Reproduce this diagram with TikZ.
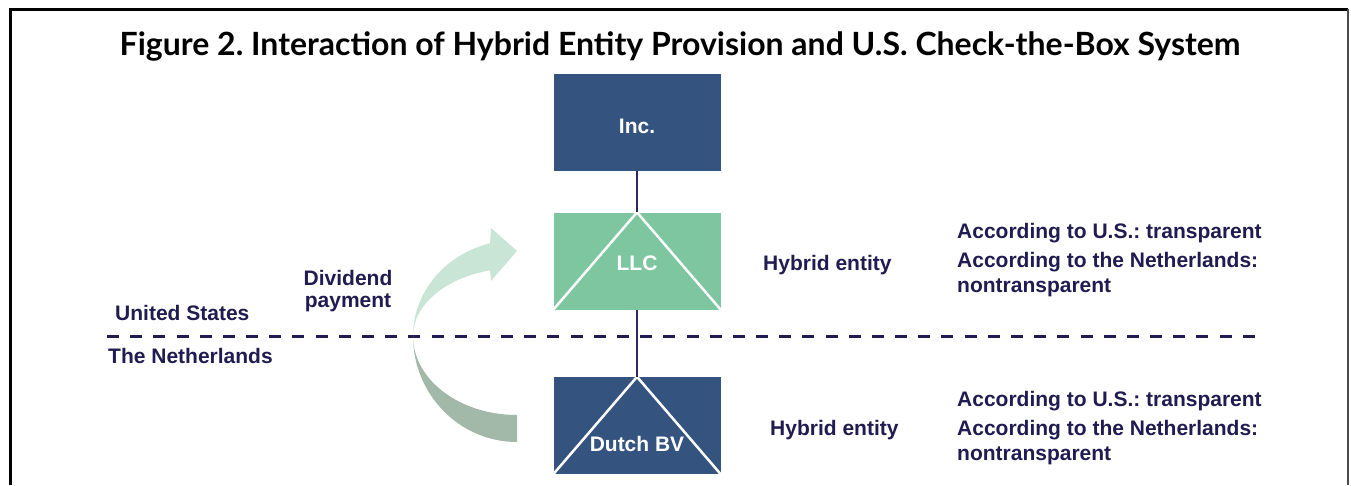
\documentclass[tikz,border=0pt]{standalone}
\usepackage{fontspec}
\setmainfont{Liberation Sans}
\newfontfamily\titlefont{Lato}
\definecolor{navytext}{HTML}{201B50}
\definecolor{boxblue}{HTML}{34537F}
\definecolor{boxgreen}{HTML}{7EC6A0}
\definecolor{linkline}{HTML}{2F2563}
\definecolor{arrowup}{HTML}{C9E5D6}
\definecolor{arrowdown}{HTML}{A2B8A8}
\tikzset{
  entity/.style={minimum width=167pt,minimum height=97pt,inner sep=0pt},
  entitytext/.style={text=white,font=\fontsize{21}{24}\selectfont\bfseries,
    inner sep=0pt,anchor=base},
  label/.style={text=navytext,font=\fontsize{21}{25}\selectfont\bfseries,
    inner sep=0pt,anchor=base west,align=left},
  link/.style={draw=linkline,line width=1.5pt},
  wedge/.style={draw=white,line width=2.5pt},
}
\frenchspacing
\begin{document}
\begin{tikzpicture}[x=1pt,y=-1pt]
\useasboundingbox (0,0) rectangle (1351,485);
% frame
\draw[black,line width=3pt] (10,485) -- (10,9) -- (1348,9);
\draw[black!70,line width=1.5pt] (1348,9) -- (1348,485);
% title
\node[anchor=base,inner sep=0pt,font=\titlefont\fontsize{32}{38}\selectfont\bfseries]
  (title) at (680,55) {Figure 2. Interaction of Hybrid Entity Provision and U.S. Check-the-Box System};
% entities
\node[entity,fill=boxblue] (inc) at (637,122.5) {};
\node[entity,fill=boxgreen] (llc) at (637,261) {};
\node[entity,fill=boxblue] (bv) at (637,425.5) {};
\draw[wedge] (llc.south west) -- (llc.north) -- (llc.south east);
\draw[wedge] (bv.south west) -- (bv.north) -- (bv.south east);
\node[entitytext] (inctext) at (637,133) {Inc.};
\node[entitytext] (llctext) at (637,270) {LLC};
\node[entitytext] (bvtext) at (637,451) {Dutch BV};
% ownership links
\draw[link] (inc.south) -- (llc.north);
\draw[link] (llc.south) -- (bv.north);
% border between countries
\coordinate (borderL) at (107,336);
\coordinate (borderR) at (1255,336);
\draw[navytext,line width=3pt,dash pattern=on 12pt off 11.18pt] (borderL) -- (borderR);
\node[label] (us) at (115,320) {United States};
\node[label] (nl) at (108,363) {The Netherlands};
% dividend arrow: lower half of the ribbon, then the upper half with its head
\coordinate (turn) at (413,336);
\fill[arrowdown] (turn) .. controls (413,394.5) and (459.6,442) .. (517,442)
  -- (517,415) .. controls (459.6,415) and (413,379.6) .. (turn) -- cycle;
\fill[arrowup] (turn) .. controls (413,292.6) and (444.6,254.5) .. (490.1,243.3)
  -- (491,228) -- (517,251) -- (491,281) -- (490.1,270.3)
  .. controls (444.6,278.3) and (413,305.2) .. (turn) -- cycle;
\node[label,anchor=base,align=center,font=\fontsize{21}{22}\selectfont\bfseries]
  (div) at (348,307) {Dividend\\payment};
% classification notes
\node[label] (hyb1) at (763,270) {Hybrid entity};
\node[label] (hyb2) at (770,435) {Hybrid entity};
\node[label] (us1) at (957,238) {According to U.S.: transparent};
\node[label] (nl1) at (957,292) {According to the Netherlands:\\nontransparent};
\node[label] (us2) at (957,406) {According to U.S.: transparent};
\node[label] (nl2) at (957,460) {According to the Netherlands:\\nontransparent};
\end{tikzpicture}
\end{document}
